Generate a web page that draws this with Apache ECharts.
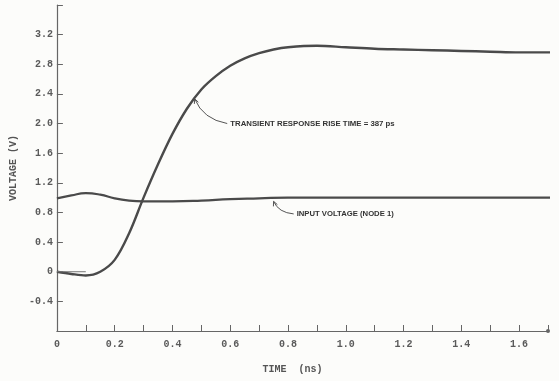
<!DOCTYPE html>
<html lang="en">

<head>
    <meta charset="UTF-8">
    <title>Transient response</title>
    <style>
        html, body { margin: 0; padding: 0; background: #fcfcfa; }
    </style>
</head>

<body>
    <div id="main" style="width: 559px; height: 381px"></div>
    <script src="https://cdn.jsdelivr.net/npm/echarts@6/dist/echarts.min.js"></script>
    <script type="text/javascript">
        // time in ns, voltage in V
        var outTime = [0, 0.05, 0.1, 0.15, 0.2, 0.25, 0.3, 0.35, 0.4, 0.45, 0.5, 0.55, 0.6, 0.65, 0.7, 0.75, 0.8, 0.9, 1.0, 1.1, 1.2, 1.3, 1.4, 1.5, 1.6, 1.72];
        var outVolt = [0, -0.03, -0.05, 0.0, 0.16, 0.52, 1.0, 1.45, 1.86, 2.2, 2.46, 2.64, 2.78, 2.88, 2.95, 3.0, 3.03, 3.05, 3.03, 3.01, 3.0, 2.99, 2.98, 2.97, 2.96, 2.96];

        var inTime = [0, 0.05, 0.1, 0.15, 0.2, 0.25, 0.3, 0.4, 0.5, 0.6, 0.7, 0.8, 1.0, 1.2, 1.4, 1.72];
        var inVolt = [0.99, 1.03, 1.06, 1.04, 0.99, 0.96, 0.95, 0.95, 0.96, 0.98, 0.99, 1.0, 1.0, 1.0, 1.0, 1.0];

        // short stub drawn along 0 V at the start
        var stubTime = [0, 0.1];
        var stubVolt = [0, 0];

        var riseLabel = 'TRANSIENT RESPONSE RISE TIME = 387 ps';
        var inputLabel = 'INPUT VOLTAGE (NODE 1)';

        function pairs(xs, ys) {
            return xs.map(function (x, i) { return [x, ys[i]]; });
        }

        var myChart = echarts.init(document.getElementById('main'));
        var ink = '#4a4a4a';
        var typeFont = '"Liberation Mono", "DejaVu Sans Mono", monospace';

        var option = {
            backgroundColor: '#fcfcfa',
            animation: false,
            grid: { left: 54, right: 11, top: 5, bottom: 50 },
            xAxis: {
                type: 'value',
                min: 0,
                max: 1.7,
                interval: 0.1,
                name: 'TIME  (ns)',
                nameLocation: 'middle',
                nameGap: 33,
                nameTextStyle: { color: '#555', fontFamily: typeFont, fontSize: 10, fontWeight: 'bold', padding: [0, 20, 0, 0] },
                axisLine: {
                    onZero: false,
                    symbol: ['none', 'circle'],
                    symbolSize: [4, 4],
                    lineStyle: { color: '#666', width: 1.2 }
                },
                axisTick: { inside: true, length: 6, lineStyle: { color: '#666' } },
                splitLine: { show: false },
                axisLabel: {
                    color: '#5a5a5a',
                    fontFamily: typeFont,
                    fontSize: 10,
                    fontWeight: 'bold',
                    margin: 8,
                    formatter: function (v) {
                        var k = Math.round(v * 10);
                        if (k === 0) return '0';
                        if (k % 2 !== 0 || k > 16) return '';
                        return (k / 10).toFixed(1);
                    }
                }
            },
            yAxis: {
                type: 'value',
                min: -0.8,
                max: 3.6,
                interval: 0.4,
                name: 'VOLTAGE (V)',
                nameLocation: 'middle',
                nameGap: 30,
                nameTextStyle: { color: '#555', fontFamily: typeFont, fontSize: 10, fontWeight: 'bold' },
                axisLine: { show: true, onZero: false, lineStyle: { color: '#666', width: 1.2 } },
                axisTick: { show: true, inside: true, length: 6, lineStyle: { color: '#666' } },
                splitLine: { show: false },
                axisLabel: {
                    color: '#5a5a5a',
                    fontFamily: typeFont,
                    fontSize: 10,
                    fontWeight: 'bold',
                    margin: 4,
                    formatter: function (v) {
                        var k = Math.round(v * 10);
                        if (k === 0) return '0';
                        if (k < -4 || k > 32) return '';
                        return (k / 10).toFixed(1);
                    }
                }
            },
            series: [{
                name: 'output',
                type: 'line',
                smooth: 0.35,
                symbol: 'none',
                lineStyle: { color: ink, width: 2.4 },
                data: pairs(outTime, outVolt)
            }, {
                name: 'input',
                type: 'line',
                smooth: 0.5,
                symbol: 'none',
                lineStyle: { color: ink, width: 2.2 },
                data: pairs(inTime, inVolt)
            }, {
                name: 'stub',
                type: 'line',
                symbol: 'none',
                lineStyle: { color: '#777', width: 1 },
                data: pairs(stubTime, stubVolt)
            }]
        };
        myChart.setOption(option);

        // annotations, anchored to data coordinates
        function px(t, v) { return myChart.convertToPixel({ gridIndex: 0 }, [t, v]); }
        var a1 = px(0.47, 2.36), t1 = px(0.6, 2.0);
        var a2 = px(0.75, 0.99), t2 = px(0.83, 0.78);

        function arrow(from, to, bend) {
            var cx = (from[0] + to[0]) / 2 - bend, cy = (from[1] + to[1]) / 2 + bend;
            var ang = Math.atan2(from[1] - cy, from[0] - cx);
            var l = 5;
            return [{
                type: 'bezierCurve',
                shape: { x1: to[0], y1: to[1], x2: from[0], y2: from[1], cpx1: cx, cpy1: cy },
                style: { stroke: '#555', lineWidth: 1, fill: null }
            }, {
                type: 'polyline',
                shape: { points: [
                    [from[0] - l * Math.cos(ang - 0.45), from[1] - l * Math.sin(ang - 0.45)],
                    from,
                    [from[0] - l * Math.cos(ang + 0.45), from[1] - l * Math.sin(ang + 0.45)]
                ] },
                style: { stroke: '#555', lineWidth: 1, fill: null }
            }];
        }

        var graphics = [].concat(
            arrow([a1[0] + 2, a1[1] + 2], [t1[0] - 3, t1[1]], 8),
            arrow([a2[0], a2[1] + 3], [t2[0] - 3, t2[1]], 5),
            [{
                type: 'text',
                x: t1[0], y: t1[1],
                style: { text: riseLabel, font: 'bold 7.8px "Liberation Sans", Arial, sans-serif', fill: '#333', textVerticalAlign: 'middle' }
            }, {
                type: 'text',
                x: t2[0], y: t2[1],
                style: { text: inputLabel, font: 'bold 7.7px "Liberation Sans", Arial, sans-serif', fill: '#333', textVerticalAlign: 'middle' }
            }]
        );
        myChart.setOption({ graphic: graphics });
    </script>

</body>

</html>
